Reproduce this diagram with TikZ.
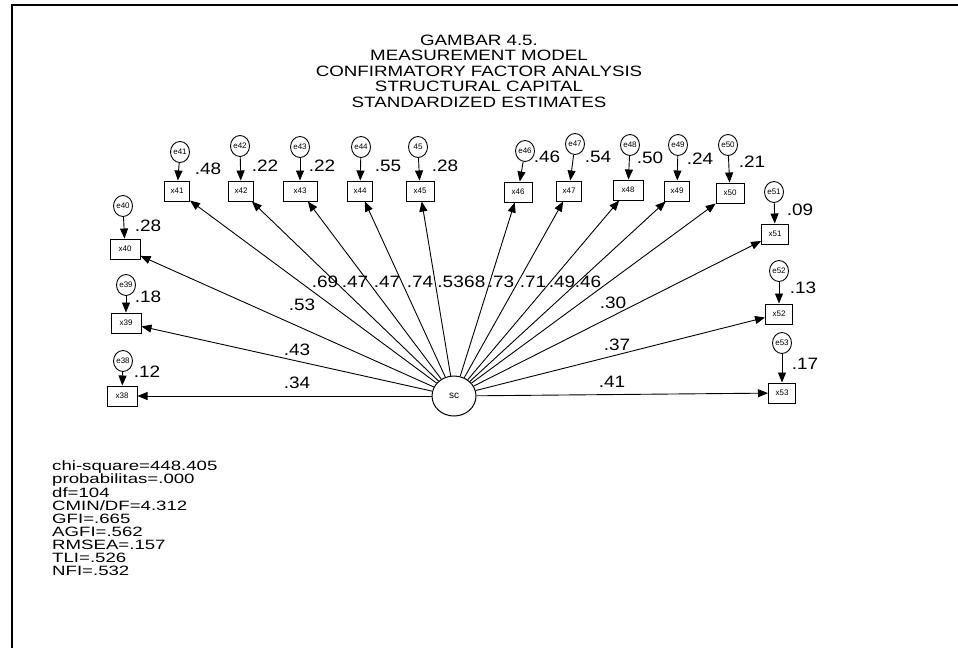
\documentclass[tikz,border=0pt]{standalone}
\usepackage{fontspec}
\setmainfont{Liberation Sans}
\usepackage{graphicx}
\usetikzlibrary{shapes.geometric,arrows.meta}
\newcommand{\wtext}[2]{\scalebox{#1}[1]{#2}}
\begin{document}
\begin{tikzpicture}[x=1pt,y=-1pt,
  obs/.style={draw,line width=1pt,rectangle,inner sep=0pt,minimum width=27pt,minimum height=20pt,font=\fontsize{8}{8}\selectfont},
  err/.style={draw,line width=0.9pt,ellipse,inner sep=0pt,minimum width=19pt,minimum height=21pt,font=\fontsize{8}{8}\selectfont},
  lat/.style={draw,line width=1pt,ellipse,inner sep=0pt,minimum width=44pt,minimum height=40pt,font=\fontsize{10}{10}\selectfont},
  arr/.style={line width=0.9pt,-{Triangle[length=10pt,width=8pt]}},
  lbl/.style={inner sep=0pt,font=\fontsize{16.5}{16.5}\selectfont},
  ttl/.style={inner sep=0pt,font=\fontsize{15}{15}\selectfont},
  stat/.style={inner sep=0pt,anchor=west,font=\fontsize{13.5}{13.5}\selectfont}]
\useasboundingbox (0,0) rectangle (958,648);
% frame
\draw[line width=1.6pt] (12,648) coordinate (fbl) -- (12,5) coordinate (ftl) -- (958,5) coordinate (ftr);
% title
\node[ttl] (t1) at (479,40) {\wtext{1.25}{GAMBAR 4.5.}};
\node[ttl] (t2) at (479,55.5) {\wtext{1.25}{MEASUREMENT MODEL}};
\node[ttl] (t3) at (479,71) {\wtext{1.25}{CONFIRMATORY FACTOR ANALYSIS}};
\node[ttl] (t4) at (479,86.5) {\wtext{1.25}{STRUCTURAL CAPITAL}};
\node[ttl] (t5) at (479,102) {\wtext{1.25}{STANDARDIZED ESTIMATES}};
% latent
\node[lat] (sc) at (454,396) {sc};
% observed top
\node[obs,minimum width=25pt] (x41) at (177,191) {x41};
\node[obs,minimum width=25pt] (x42) at (241,191) {x42};
\node[obs,minimum width=34pt] (x43) at (300,191) {x43};
\node[obs,minimum width=25pt] (x44) at (360,191) {x44};
\node[obs,minimum width=28pt] (x45) at (420,191) {x45};
\node[obs,minimum width=28pt] (x46) at (518,192) {x46};
\node[obs,minimum width=25pt] (x47) at (569,191) {x47};
\node[obs,minimum width=30pt] (x48) at (628,190) {x48};
\node[obs,minimum width=25pt] (x49) at (677,191) {x49};
\node[obs,minimum width=28pt] (x50) at (730,193) {x50};
% observed left
\node[obs,minimum width=30pt] (x40) at (125,249) {x40};
\node[obs,minimum width=30pt] (x39) at (126,323) {x39};
\node[obs,minimum width=30pt] (x38) at (122,396) {x38};
% observed right
\node[obs] (x51) at (775,234) {x51};
\node[obs] (x52) at (779,314) {x52};
\node[obs] (x53) at (782,393) {x53};
% errors
\node[err] (e41) at (180,152) {e41};
\node[err] (e42) at (240,146) {e42};
\node[err] (e43) at (300,147) {e43};
\node[err] (e44) at (361,147) {e44};
\node[err] (e45) at (418,147) {45};
\node[err] (e46) at (525,151) {e46};
\node[err] (e47) at (575,144) {e47};
\node[err] (e48) at (630,145) {e48};
\node[err] (e49) at (678,145) {e49};
\node[err] (e50) at (728,145) {e50};
\node[err] (e40) at (123,206) {e40};
\node[err] (e39) at (126,285) {e39};
\node[err] (e38) at (123,361) {e38};
\node[err] (e51) at (774,192) {e51};
\node[err] (e52) at (779,271) {e52};
\node[err] (e53) at (782,343) {e53};
% error arrows
\foreach \n in {38,39,40,41,42,43,44,45,46,47,48,49,50,51,52,53}
  \draw[arr] (e\n) -- (x\n);
% loading arrows
\foreach \n in {38,39,40,41,42,43,44,45,46,47,48,49,50,51,52,53}
  \draw[arr] (sc) -- (x\n);
% variance labels
\node[lbl] (r41) at (208,169) {\wtext{1.15}{.48}};
\node[lbl] (r42) at (265,166) {\wtext{1.15}{.22}};
\node[lbl] (r43) at (322,166) {\wtext{1.15}{.22}};
\node[lbl] (r44) at (388,166) {\wtext{1.15}{.55}};
\node[lbl] (r45) at (445,166) {\wtext{1.15}{.28}};
\node[lbl] (r46) at (547,157) {\wtext{1.15}{.46}};
\node[lbl] (r47) at (598,157) {\wtext{1.15}{.54}};
\node[lbl] (r48) at (650,158) {\wtext{1.15}{.50}};
\node[lbl] (r49) at (700,159) {\wtext{1.15}{.24}};
\node[lbl] (r50) at (752,162) {\wtext{1.15}{.21}};
\node[lbl] (r40) at (148,226) {\wtext{1.15}{.28}};
\node[lbl] (r39) at (148,297) {\wtext{1.15}{.18}};
\node[lbl] (r38) at (147,372) {\wtext{1.15}{.12}};
\node[lbl] (r51) at (800,210) {\wtext{1.15}{.09}};
\node[lbl] (r52) at (803,288) {\wtext{1.15}{.13}};
\node[lbl] (r53) at (805,364) {\wtext{1.15}{.17}};
% loading labels
\node[lbl] (l41) at (325,282) {\wtext{1.15}{.69}};
\node[lbl] (l42) at (355,282) {\wtext{1.15}{.47}};
\node[lbl] (l43) at (387,282) {\wtext{1.15}{.47}};
\node[lbl] (l44) at (420,282) {\wtext{1.15}{.74}};
\node[lbl,anchor=east] (l45) at (464,282) {\wtext{1.15}{.53}};
\node[lbl,anchor=west] (l46) at (464,282) {\wtext{1.15}{68}};
\node[lbl] (l47) at (501,282) {\wtext{1.15}{.73}};
\node[lbl] (l48) at (533,282) {\wtext{1.15}{.71}};
\node[lbl] (l49) at (562,282) {\wtext{1.15}{.49}};
\node[lbl] (l50) at (588,282) {\wtext{1.15}{.46}};
\node[lbl] (l40) at (302,305) {\wtext{1.15}{.53}};
\node[lbl] (l39) at (297,350) {\wtext{1.15}{.43}};
\node[lbl] (l38) at (297,383) {\wtext{1.15}{.34}};
\node[lbl] (l51) at (613,303) {\wtext{1.15}{.30}};
\node[lbl] (l52) at (617,345) {\wtext{1.15}{.37}};
\node[lbl] (l53) at (612,382) {\wtext{1.15}{.41}};
% statistics
\foreach \t [count=\i] in {chi-square=448.405,probabilitas=.000,df=104,CMIN/DF=4.312,GFI=.665,AGFI=.562,RMSEA=.157,TLI=.526,NFI=.532}
  \node[stat] (s\i) at (52,{467+13*(\i-1)}) {\wtext{1.38}{\t}};
\end{tikzpicture}
\end{document}
